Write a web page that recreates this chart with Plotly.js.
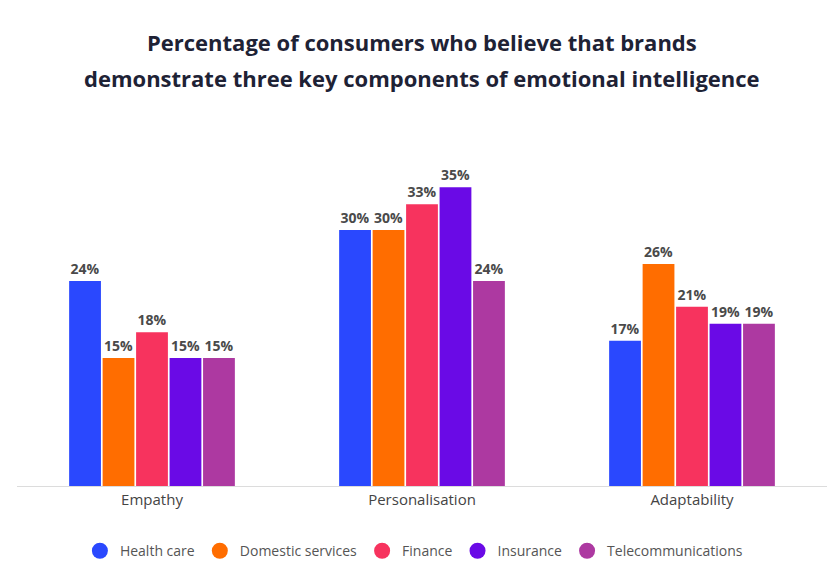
<!DOCTYPE html>
<html>
<head>
<meta charset="utf-8">
<script src="https://cdn.plot.ly/plotly-3.0.1.min.js"></script>
<style>html,body{margin:0;padding:0;background:#fff;}#chart{width:830px;height:573px;}</style>
</head>
<body>
<div id="chart"></div>
<script>
const categories = ["Empathy", "Personalisation", "Adaptability"];
const seriesNames = ["Health care", "Domestic services", "Finance", "Insurance", "Telecommunications"];
const healthCare = [24, 30, 17];
const domesticServices = [15, 30, 26];
const finance = [18, 33, 21];
const insurance = [15, 35, 19];
const telecommunications = [15, 24, 19];
const colors = ["#2a48fe", "#ff6d00", "#f7335e", "#6a0ae6", "#ad39a1"];

const seriesValues = [healthCare, domesticServices, finance, insurance, telecommunications];

const traces = [];
seriesValues.forEach((vals, i) => {
  traces.push({
    type: "bar",
    x: categories,
    y: vals,
    name: seriesNames[i],
    marker: {color: colors[i]},
    texttemplate: "%{y}%",
    textposition: "outside",
    cliponaxis: false,
    textfont: {family: "Open Sans", size: 14, color: "#4a4a4a", weight: 700},
    showlegend: false,
    hoverinfo: "skip"
  });
});
seriesValues.forEach((vals, i) => {
  traces.push({
    type: "scatter",
    mode: "markers",
    x: [null],
    y: [null],
    name: seriesNames[i],
    marker: {color: colors[i], size: 16, symbol: "circle"},
    showlegend: true
  });
});

const layout = {
  width: 830,
  height: 573,
  margin: {l: 17, r: 3, t: 130, b: 87},
  paper_bgcolor: "#ffffff",
  plot_bgcolor: "#ffffff",
  font: {family: "Open Sans", color: "#444"},
  barmode: "group",
  bargap: 0.38,
  bargroupgap: 0.05,
  xaxis: {
    type: "category",
    showgrid: false,
    showline: true,
    linecolor: "#dcdcdc",
    linewidth: 1,
    ticks: "",
    tickfont: {family: "Open Sans", size: 15, color: "#444"},
    zeroline: false
  },
  yaxis: {
    range: [0, 41.7],
    showgrid: false,
    zeroline: false,
    showticklabels: false,
    showline: false
  },
  showlegend: true,
  legend: {
    orientation: "h",
    x: 0.49,
    xanchor: "center",
    y: -0.183,
    yanchor: "middle",
    font: {family: "Open Sans", size: 14, color: "#555"},
    itemwidth: 30
  },
  annotations: [
    {
      text: "Percentage of consumers who believe that brands",
      xref: "paper", yref: "paper", x: 0.5, y: 1.247,
      xanchor: "center", yanchor: "middle", showarrow: false,
      font: {family: "Open Sans", size: 22, color: "#1e2235", weight: 700}
    },
    {
      text: "demonstrate three key components of emotional intelligence",
      xref: "paper", yref: "paper", x: 0.5, y: 1.146,
      xanchor: "center", yanchor: "middle", showarrow: false,
      font: {family: "Open Sans", size: 22, color: "#1e2235", weight: 700}
    }
  ]
};

Plotly.newPlot("chart", traces, layout, {displayModeBar: false, staticPlot: true});
</script>
</body>
</html>
